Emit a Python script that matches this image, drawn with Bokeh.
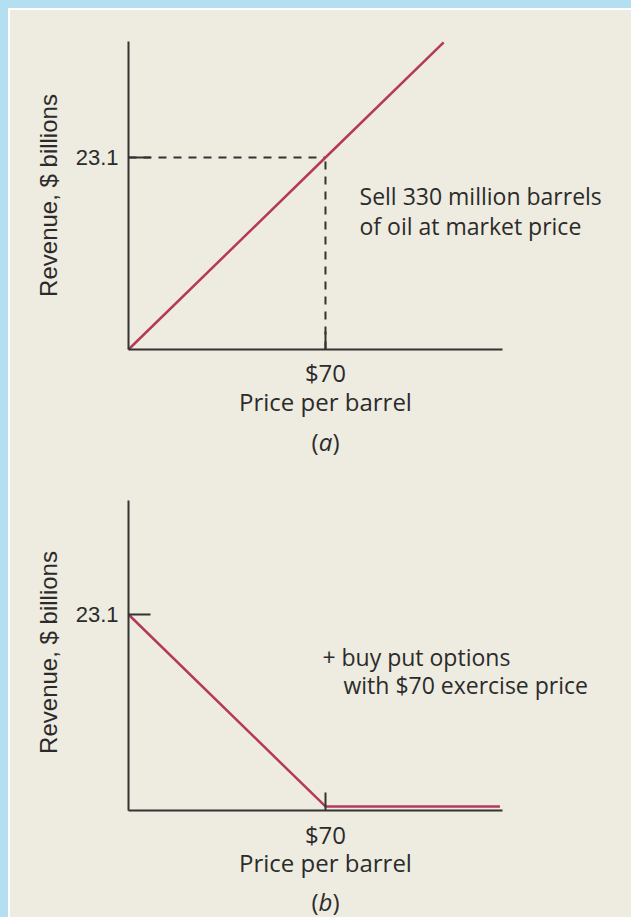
import math
from bokeh.plotting import figure
from bokeh.layouts import column
from bokeh.models import FixedTicker, Range1d, Label
from bokeh.embed import file_html
from bokeh.resources import INLINE

# ---- data ----
price_a = [0, 70, 112]            # $ per barrel, panel (a)
revenue_a = [0, 23.1, 36.96]      # $ billions (330M barrels sold at market price)
price_b = [0, 70, 132]            # $ per barrel, panel (b)
revenue_b = [23.1, 0, 0]          # $ billions, put options with $70 exercise price
strike_price = 70
hedged_revenue = 23.1
x_ticks = [70]
x_tick_labels = {70: "$70"}
y_ticks = [23.1]
y_tick_labels = {23.1: "23.1"}
x_title = "Price per barrel"
y_title = "Revenue, $ billions"
panel_letters = ["a", "b"]

BG = "#eeebe0"
INK = "#2b2b2b"
AXIS = "#333333"
RED = "#b53a5a"
HUM = "Open Sans"
ARIAL = "Liberation Sans"
X_AXIS_END = 132.9
FIG_W = 621
X_RANGE = (-41.93, 178.75)


def label(p, x, y, txt, font=HUM, size="24px", align="left", style="normal",
          angle=0.0, x_offset=0):
    p.add_layout(Label(x=x, y=y, text=txt, text_align=align, x_offset=x_offset,
                       text_baseline="alphabetic", text_font=font, angle=angle,
                       text_font_size=size, text_font_style=style, text_color=INK))


def make_fig(height, y_range, x_axis_at, y_bounds, title_y):
    p = figure(width=FIG_W, height=height, output_backend="svg", toolbar_location=None,
               tools="", x_range=Range1d(*X_RANGE), y_range=Range1d(*y_range),
               min_border_left=0, min_border_right=0,
               min_border_top=0, min_border_bottom=0)
    p.background_fill_color = None
    p.border_fill_color = BG
    p.outline_line_color = None
    p.grid.visible = False

    xa = p.xaxis[0]
    xa.ticker = FixedTicker(ticks=x_ticks)
    xa.major_label_overrides = x_tick_labels
    xa.bounds = (0, X_AXIS_END)
    xa.fixed_location = x_axis_at
    ya = p.yaxis[0]
    ya.ticker = FixedTicker(ticks=y_ticks)
    ya.major_label_overrides = y_tick_labels
    ya.bounds = y_bounds
    ya.fixed_location = 0
    for ax in (xa, ya):
        ax.axis_line_width = 2
        ax.axis_line_color = AXIS
        ax.major_tick_line_width = 2
        ax.major_tick_line_color = AXIS
        ax.major_tick_out = 0
        ax.minor_tick_line_color = None
        ax.major_label_text_color = INK
    xa.major_tick_in = 18
    ya.major_tick_in = 22
    xa.major_label_text_font = HUM
    xa.major_label_text_font_size = "24px"
    xa.major_label_standoff = 7
    ya.major_label_text_font = ARIAL
    ya.major_label_text_font_size = "22px"
    ya.major_label_standoff = 10

    # axis titles
    label(p, strike_price, title_y, x_title, align="center")
    label(p, -28.6, 18.53, y_title, font=ARIAL, align="center", angle=math.pi / 2)
    return p


def add_tag(p, letter, y):
    label(p, strike_price, y, letter, align="center", style="italic")
    label(p, strike_price, y, "(", align="right", x_offset=-7)
    label(p, strike_price, y, ")", align="left", x_offset=7)


# ---- panel (a) ----
pa = make_fig(460, (-14.56, 40.79), 0, (0, 37.06), -6.26)
pa.line([0, strike_price], [hedged_revenue, hedged_revenue], line_color=AXIS,
        line_width=2, line_dash="8 7")
pa.line([strike_price, strike_price], [0, hedged_revenue], line_color=AXIS,
        line_width=2, line_dash="8 7")
pa.line(price_a, revenue_a, line_color=RED, line_width=2.5)
label(pa, 82.1, 18.45, "Sell 330 million barrels", size="23px")
label(pa, 82.1, 14.85, "of oil at market price", size="23px")
add_tag(pa, panel_letters[0], -11.13)

# ---- panel (b) ----
pb = make_fig(447, (-13.36, 40.43), -0.5, (-0.5, 36.8), -6.74)
pb.line(price_b, revenue_b, line_color=RED, line_width=2.5)
label(pb, 68.9, 17.95, "+ buy put options", size="23px")
label(pb, 76.4, 14.6, "with $70 exercise price", size="23px")
add_tag(pb, panel_letters[1], -11.4)

inner = column(pa, pb, spacing=0,
               styles={"background-color": BG, "border-left": "2px solid #ffffff",
                       "border-top": "2px solid #ffffff"})
layout = column(inner, spacing=0,
                styles={"background-color": "#b3dff0", "padding-left": "8px",
                        "padding-top": "8px"})
open("out.html", "w").write(file_html(layout, INLINE))
